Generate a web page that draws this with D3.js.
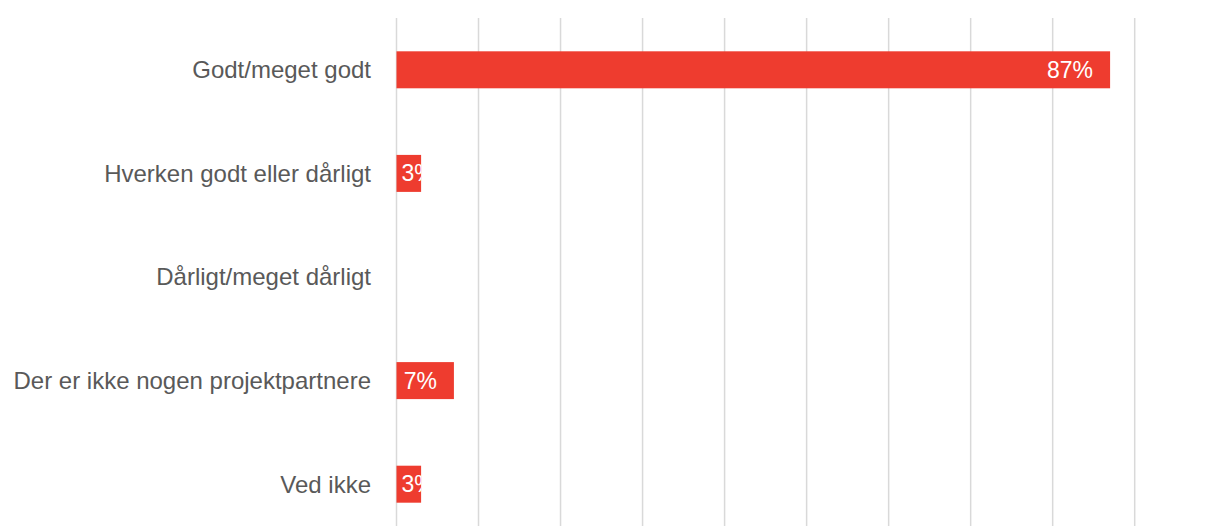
<!DOCTYPE html>
<html>
<head>
<meta charset="utf-8">
<script src="https://cdn.jsdelivr.net/npm/d3@7"></script>
<style>
  body { margin: 0; background: #fff; }
  text { font-family: "Liberation Sans", Arial, sans-serif; }
</style>
</head>
<body>
<div id="chart"></div>
<script>
// Data
const categories = ["Godt/meget godt", "Hverken godt eller dårligt", "Dårligt/meget dårligt", "Der er ikke nogen projektpartnere", "Ved ikke"];
const values = [87, 3, 0, 7, 3];
const gridTicks = [0, 10, 20, 30, 40, 50, 60, 70, 80, 90];

const W = 1206, H = 526;
const svg = d3.select("#chart").append("svg")
  .attr("width", W).attr("height", H);

const x = d3.scaleLinear().domain([0, 90]).range([396.5, 1134.7]);
const y = d3.scaleBand().domain(categories).range([18, 536])
  .paddingInner(0.643).paddingOuter(0.3215);

// vertical gridlines
svg.append("g").selectAll("line")
  .data(gridTicks)
  .enter().append("line")
  .attr("x1", d => x(d)).attr("x2", d => x(d))
  .attr("y1", 18).attr("y2", H)
  .attr("stroke", "#d9d9d9")
  .attr("stroke-width", 1.5);

const rows = categories.map((c, i) => ({ cat: c, val: values[i], i }));

// clip paths so labels are cut at bar end
const defs = svg.append("defs");
rows.forEach(d => {
  defs.append("clipPath").attr("id", "clip" + d.i)
    .append("rect")
    .attr("x", x(0)).attr("y", y(d.cat))
    .attr("width", x(d.val) - x(0)).attr("height", y.bandwidth());
});

svg.append("g").selectAll("rect")
  .data(rows.filter(d => d.val > 0))
  .enter().append("rect")
  .attr("x", x(0))
  .attr("y", d => y(d.cat))
  .attr("width", d => x(d.val) - x(0))
  .attr("height", y.bandwidth())
  .attr("fill", "#ee3c2f");

// value labels
const lbl = svg.append("g").selectAll("text")
  .data(rows.filter(d => d.val > 0))
  .enter().append("text")
  .attr("clip-path", d => `url(#clip${d.i})`)
  .attr("y", d => y(d.cat) + y.bandwidth() / 2)
  .attr("dy", "0.35em")
  .attr("fill", "#fff")
  .attr("font-size", 23)
  .text(d => d.val + "%");

lbl.each(function(d) {
  const w = this.getComputedTextLength();
  const sx = Math.max(x(d.val) - 17 - w, x(0) + 5);
  d3.select(this).attr("x", sx);
});

// category labels
svg.append("g").selectAll("text")
  .data(rows)
  .enter().append("text")
  .attr("x", 371)
  .attr("y", d => y(d.cat) + y.bandwidth() / 2)
  .attr("dy", "0.35em")
  .attr("text-anchor", "end")
  .attr("fill", "#595959")
  .attr("font-size", 24)
  .text(d => d.cat);
</script>
</body>
</html>
